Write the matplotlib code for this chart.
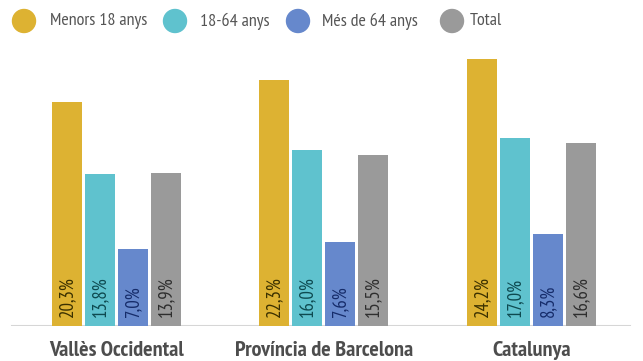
import matplotlib.pyplot as plt
import numpy as np
from matplotlib.patches import Ellipse

# Dades: taxa de risc de pobresa per edat
territoris = ["Vallès Occidental", "Província de Barcelona", "Catalunya"]
grups = ["Menors 18 anys", "18-64 anys", "Més de 64 anys", "Total"]
menors = [20.3, 22.3, 24.2]
adults = [13.8, 16.0, 17.0]
grans = [7.0, 7.6, 8.3]
total = [13.9, 15.5, 16.6]

colors = ["#DDB232", "#5FC2CE", "#6688CC", "#9A9A9A"]
colors_text = ["#3a3000", "#0e4a50", "#162c6a", "#2e2e2e"]
font = ["PT Sans Narrow", "DejaVu Sans"]

W, H = 643, 361
fig = plt.figure(figsize=(W / 100, H / 100), dpi=100)
fig.patch.set_facecolor("white")

base = 326
px_unit = 11.03
ax = fig.add_axes([0, (H - base) / H, 1, base / H])
ax.set_ylim(0, base / px_unit)

sep = 207.5
c0 = 116.5
ax.set_xlim(-c0 / sep, (W - c0) / sep)

pas = 33 / sep
amplada = 30 / sep
x = np.arange(len(territoris))
sèries = [menors, adults, grans, total]
for i, vals in enumerate(sèries):
    xs = x + (i - 1.5) * pas
    ax.bar(xs, vals, width=amplada, color=colors[i], zorder=2)
    for xi, v in zip(xs, vals):
        ax.text(xi, 0.8, f"{v:.1f}%".replace(".", ","), rotation=90,
                ha="center", va="bottom", fontsize=13.5, family=font,
                color=colors_text[i], zorder=3)

ax.axhline(0, xmin=12 / W, xmax=630 / W, color="#d6d6d6", lw=1.5, zorder=1)
ax.axis("off")

# Etiquetes de territori
for xi, nom in zip(x, territoris):
    fig.text((c0 + xi * sep) / W, 1 - 351 / H, nom, ha="center", va="center",
             fontsize=16, fontweight="bold", color="#4d4d4d", family=font)

# Llegenda amb cercles
cercles = [24, 175, 298, 452]
textos_x = [50, 200, 322, 470]
ly = 21
for cx, tx, col, nom in zip(cercles, textos_x, colors, grups):
    fig.patches.append(Ellipse((cx / W, 1 - ly / H), 23 / W, 23 / H,
                               transform=fig.transFigure, color=col))
    fig.text(tx / W, 1 - ly / H, nom, ha="left", va="center", fontsize=13,
             color="#555555", family=font)

fig.savefig("out.png", dpi=100)
